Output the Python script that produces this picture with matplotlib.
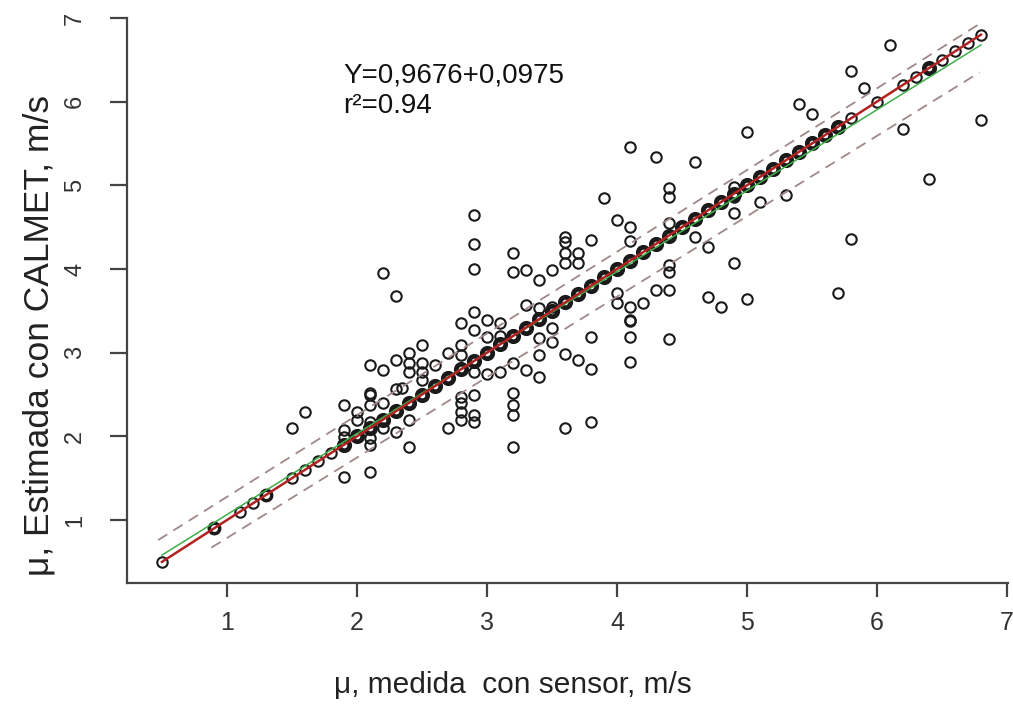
import matplotlib
matplotlib.use("Agg")
import matplotlib.pyplot as plt

plt.rcParams['font.family'] = ['Liberation Sans', 'DejaVu Sans']

# Off-diagonal observations (sensor, CALMET)
obs_x = [6.1, 5.8, 5.9, 5.4, 5.5, 6.2, 6.8, 5.0, 4.1, 4.3, 4.6, 4.4, 4.4, 6.4, 5.3,
         5.1, 3.9, 4.0, 4.1, 4.1, 4.4, 4.6, 4.9, 4.9, 4.9, 4.7, 5.8, 3.6, 3.6, 3.8,
         3.6, 3.7, 3.7, 3.6, 4.4, 4.4, 4.9, 4.3, 4.4, 4.0, 4.0, 4.1, 4.2, 4.1, 4.7,
         4.8, 5.0, 3.8, 4.1, 4.4, 4.1, 3.6, 3.7, 3.8, 4.1, 3.8, 3.6, 5.7,
         2.9, 2.9, 2.9, 2.2, 2.3, 3.2, 3.2, 3.3, 3.4, 3.5, 3.3, 3.4, 2.9, 3.0, 3.1,
         2.8, 2.9, 3.0, 3.4, 3.5, 3.5, 3.4, 3.4, 3.3, 3.2, 3.1, 2.8, 2.7, 2.8, 2.5,
         2.4, 2.4, 2.4, 2.3, 2.5, 2.5, 2.5, 2.6, 2.2, 2.1, 2.9, 2.1, 1.9, 2.0, 2.1,
         2.2, 2.0, 2.1, 2.3, 1.9, 1.9, 2.1, 2.1, 2.3, 2.4, 1.9, 2.1, 2.4, 2.8, 2.8,
         2.8, 2.8, 2.9, 2.9, 2.9, 2.7, 3.2, 3.2, 3.2, 3.2, 1.6, 1.5, 2.1, 2.2, 2.35,
         3.5, 3.0, 3.1]
obs_y = [6.68, 6.37, 6.16, 5.97, 5.85, 5.67, 5.78, 5.64, 5.46, 5.34, 5.28, 4.97, 4.86, 5.07, 4.88,
         4.80, 4.85, 4.59, 4.50, 4.34, 4.55, 4.38, 4.98, 4.86, 4.67, 4.26, 4.36, 4.38, 4.32, 4.35,
         4.19, 4.19, 4.07, 4.07, 4.05, 3.96, 4.07, 3.75, 3.75, 3.71, 3.59, 3.55, 3.59, 3.39, 3.66,
         3.55, 3.64, 3.19, 3.19, 3.16, 3.38, 2.98, 2.91, 2.80, 2.89, 2.17, 2.10, 3.71,
         4.65, 4.30, 4.00, 3.95, 3.68, 4.19, 3.96, 3.99, 3.87, 3.99, 3.57, 3.53, 3.49, 3.39, 3.35,
         3.35, 3.27, 3.19, 3.17, 3.30, 3.13, 2.97, 2.71, 2.79, 2.88, 2.77, 3.09, 3.00, 2.97, 3.09,
         3.00, 2.88, 2.77, 2.91, 2.88, 2.77, 2.67, 2.85, 2.79, 2.85, 2.77, 2.52, 2.37, 2.29, 2.37,
         2.40, 2.20, 2.17, 2.57, 2.08, 1.99, 1.98, 1.90, 2.05, 1.87, 1.51, 1.57, 2.20, 2.47, 2.40,
         2.29, 2.19, 2.49, 2.25, 2.17, 2.10, 2.52, 2.37, 2.25, 1.87, 2.29, 2.10, 2.49, 2.10, 2.58,
         3.55, 2.75, 3.20]

# Points lying on the 1:1 line (heavily overplotted)
diag_dense = [1.9, 2.0, 2.1, 2.2, 2.3, 2.4, 2.5, 2.6, 2.7, 2.8, 2.9, 3.0, 3.1, 3.2, 3.3,
              3.4, 3.5, 3.6, 3.7, 3.8, 3.9, 4.0, 4.1, 4.2, 4.3, 4.4, 4.5, 4.6, 4.7, 4.8,
              4.9, 5.0, 5.1, 5.2, 5.3, 5.4, 5.5, 5.6, 5.7, 6.4]
diag_light = [0.5, 1.1, 1.2, 1.5, 1.6, 1.7, 1.8, 5.8, 6.0, 6.2, 6.3, 6.5, 6.6, 6.7, 6.8]
diag_mid = [0.9, 1.3]

# line through the 1:1 points
line_x = [0.5, 0.9, 1.1, 1.2, 1.3, 1.5, 1.6, 1.7, 1.8, 1.9, 2.0, 2.5, 3.0, 3.5, 4.0,
          4.5, 5.0, 5.5, 5.7, 5.8, 6.0, 6.2, 6.3, 6.4, 6.5, 6.6, 6.7, 6.8]

# regression line Y = 0.9676 X + 0.0975
fit_x = [0.5, 6.8]
fit_y = [0.9676 * 0.5 + 0.0975, 0.9676 * 6.8 + 0.0975]

# prediction band (dashed)
upper_x = [0.47, 6.78]
upper_y = [0.76, 6.92]
lower_x = [0.88, 6.79]
lower_y = [0.67, 6.35]

x_ticks = [1, 2, 3, 4, 5, 6, 7]
y_ticks = [1, 2, 3, 4, 5, 6, 7]

fig = plt.figure(figsize=(10.13, 7.05), dpi=100)
ax = fig.add_axes([0.1254, 0.173, 0.8696, 0.8015])
ax.set_xlim(0.231, 7.008)
ax.set_ylim(0.247, 7.0)

mk = dict(marker='o', linestyle='none', markerfacecolor='none', markeredgecolor='#1a1a1a')
ax.plot(obs_x, obs_y, markersize=7.5, markeredgewidth=1.5, **mk)
ax.plot(diag_light, diag_light, markersize=7.5, markeredgewidth=1.5, **mk)
ax.plot(diag_mid, diag_mid, markersize=7.5, markeredgewidth=2.5, **mk)
ax.plot(diag_dense, diag_dense, markersize=7.5, markeredgewidth=3.4, **mk)

ax.plot(upper_x, upper_y, color='#a08888', lw=1.3, dashes=(6, 4))
ax.plot(lower_x, lower_y, color='#a08888', lw=1.3, dashes=(6, 4))
ax.plot(fit_x, fit_y, color='#3fae49', lw=1.1)
ax.plot(line_x, line_x, color='#b22222', lw=1.8)

for s in ['top', 'right']:
    ax.spines[s].set_visible(False)
for s in ['left', 'bottom']:
    ax.spines[s].set_color('#444444')
    ax.spines[s].set_linewidth(1.6)

ax.set_xticks(x_ticks)
ax.set_yticks(y_ticks)
ax.tick_params(axis='x', direction='out', length=10, width=1.6, color='#444444',
               labelsize=18, pad=10, labelcolor='#333333')
ax.tick_params(axis='y', direction='out', length=12.5, width=1.6, color='#444444',
               labelsize=17, pad=17, labelcolor='#333333')
for lab in ax.get_yticklabels():
    lab.set_rotation(90)
    lab.set_va('center')

fig.text(343 / 1013, 1 - 75 / 705, 'Y=0,9676+0,0975', fontsize=20, color='#111111',
         va='center', ha='left')
fig.text(343 / 1013, 1 - 106 / 705, 'r\u00b2=0.94', fontsize=20, color='#111111',
         va='center', ha='left')

fig.text(513 / 1013, 1 - 685 / 705, '\u03bc, medida  con sensor, m/s', fontsize=21.5,
         color='#222222', ha='center', va='center')
fig.text(39 / 1013, 1 - 336 / 705, '\u03bc, Estimada con CALMET, m/s', fontsize=25.5,
         color='#222222', ha='center', va='center', rotation=90)

fig.savefig('out.png', dpi=100, facecolor='white')
